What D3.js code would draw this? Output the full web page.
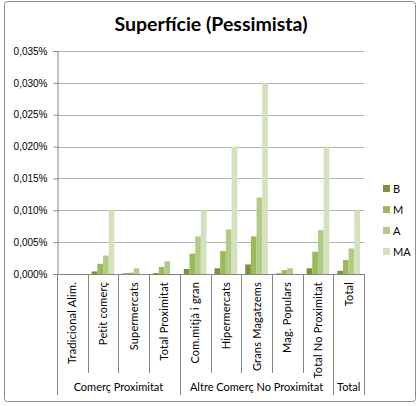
<!DOCTYPE html>
<html>
<head>
<meta charset="utf-8">
<script src="https://cdn.jsdelivr.net/npm/d3@7"></script>
<style>
  body { margin: 0; background: #fff; }
  svg { font-family: Lato, "Noto Sans", sans-serif; }
</style>
</head>
<body>
<div id="chart"></div>
<script>
// values in % units
var categories = ["Tradicional Alim.", "Petit comerç", "Supermercats", "Total Proximitat",
                  "Com.mitjà i gran", "Hipermercats", "Grans Magatzems", "Mag. Populars",
                  "Total No Proximitat", "Total"];
var groupNames = ["Comerç Proximitat", "Altre Comerç No Proximitat", "Total"];
var groupSizes = [4, 5, 1];
var seriesNames = ["B", "M", "A", "MA"];
var valB  = [0, 0.0004, 0.0001, 0.00015, 0.0008, 0.0009, 0.0015, 0.0001, 0.0009, 0.0005];
var valM  = [0, 0.0016, 0.0002, 0.0011, 0.0032, 0.0036, 0.0059, 0.0006, 0.0035, 0.0022];
var valA  = [0, 0.0029, 0.0009, 0.0020, 0.0059, 0.0070, 0.0120, 0.0009, 0.0069, 0.0040];
var valMA = [0, 0.0100, 0, 0, 0.0100, 0.0200, 0.0300, 0, 0.0200, 0.0100];
var yTicks = [0, 0.005, 0.010, 0.015, 0.020, 0.025, 0.030, 0.035];
var colors = ["#77933c", "#9bbb59", "#b3cb87", "#d3e1bd"];

var W = 419, H = 406;
var margin = {left: 57, right: 55, top: 51, bottom: 132};
var pw = W - margin.left - margin.right,
    ph = H - margin.top - margin.bottom;

var svg = d3.select("#chart").append("svg")
    .attr("width", W).attr("height", H);

// outer border
svg.append("rect")
    .attr("x", 4.5).attr("y", 1.5)
    .attr("width", 411).attr("height", 400)
    .attr("rx", 3)
    .attr("fill", "#fff").attr("stroke", "#8c8c8c");

svg.append("text")
    .attr("x", 211).attr("y", 31)
    .attr("text-anchor", "middle")
    .style("font-size", "19.5px").style("font-weight", "bold")
    .text("Superfície (Pessimista)");

var x0 = d3.scaleBand().domain(categories).range([0, pw]).padding(0);
var gap = x0.bandwidth() * 0.13;
var x1 = d3.scaleBand().domain(seriesNames).range([gap, x0.bandwidth() - gap]).padding(0);
var y = d3.scaleLinear().domain([0, 0.035]).range([ph, 0]);

var fmt = function(v) { return d3.format(".3f")(v).replace(".", ",") + "%"; };

var g = svg.append("g").attr("transform", "translate(" + margin.left + "," + margin.top + ")");

// gridlines
g.append("g").selectAll("line").data(yTicks.slice(1)).enter().append("line")
    .attr("x1", 0).attr("x2", pw)
    .attr("y1", function(d) { return Math.round(y(d)) + 0.5; })
    .attr("y2", function(d) { return Math.round(y(d)) + 0.5; })
    .attr("stroke", "#b3b3b3");

// y axis
var yAxis = d3.axisLeft(y).tickValues(yTicks).tickFormat(fmt).tickSize(4).tickPadding(6);
var ya = g.append("g").attr("transform", "translate(0.5,0)").call(yAxis);
ya.select(".domain").attr("stroke", "#868686");
ya.selectAll(".tick line").attr("stroke", "#868686");
ya.selectAll("text").style("font-size", "10px").attr("fill", "#000");

// bars
var series = [valB, valM, valA, valMA];
series.forEach(function(vals, si) {
  g.append("g").selectAll("rect").data(vals).enter().append("rect")
      .attr("x", function(d, i) { return x0(categories[i]) + x1(seriesNames[si]); })
      .attr("width", x1.bandwidth())
      .attr("y", function(d) { return y(d); })
      .attr("height", function(d) { return ph - y(d); })
      .attr("fill", colors[si]);
});

// x axis line
g.append("line")
    .attr("x1", 0).attr("x2", pw)
    .attr("y1", ph + 0.5).attr("y2", ph + 0.5)
    .attr("stroke", "#868686");

// category separators
var catEdges = categories.map(function(c) { return x0(c); }).concat([pw]);
var groupEdges = [0];
groupSizes.forEach(function(n, i) { groupEdges.push(groupEdges[i] + n); });

g.append("g").selectAll("line").data(catEdges).enter().append("line")
    .attr("x1", function(d) { return Math.round(d) + 0.5; })
    .attr("x2", function(d) { return Math.round(d) + 0.5; })
    .attr("y1", ph)
    .attr("y2", function(d, i) { return groupEdges.indexOf(i) >= 0 ? ph + 121 : ph + 99; })
    .attr("stroke", "#868686");

// category labels, rotated
g.append("g").selectAll("text").data(categories).enter().append("text")
    .attr("transform", function(d) {
      return "translate(" + (x0(d) + x0.bandwidth() / 2 + 4) + "," + (ph + 8) + ") rotate(-90)";
    })
    .attr("text-anchor", "end")
    .style("font-size", "11px")
    .style("letter-spacing", "0.2px")
    .text(function(d) { return d; });

// group labels
g.append("g").selectAll("text").data(groupNames).enter().append("text")
    .attr("x", function(d, i) {
      var a = catEdges[groupEdges[i]], b = catEdges[groupEdges[i + 1]];
      return (a + b) / 2;
    })
    .attr("y", ph + 117)
    .attr("text-anchor", "middle")
    .style("font-size", "11px")
    .text(function(d) { return d; });

// legend
var legend = svg.append("g").attr("transform", "translate(383,185)");
seriesNames.forEach(function(s, i) {
  var row = legend.append("g").attr("transform", "translate(0," + (i * 21) + ")");
  row.append("rect").attr("width", 7).attr("height", 7).attr("fill", colors[i]);
  row.append("text").attr("x", 10).attr("y", 8).style("font-size", "11px").text(s);
});
</script>
</body>
</html>
